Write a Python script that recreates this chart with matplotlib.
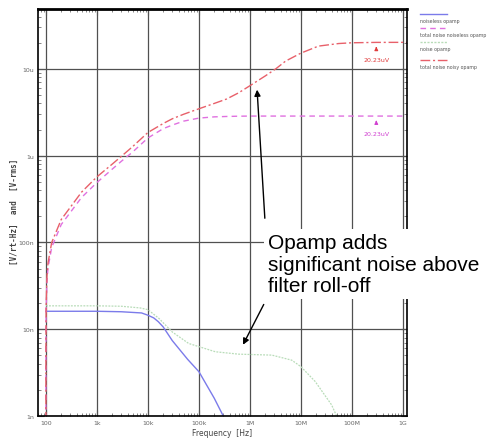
import numpy as np
import matplotlib
matplotlib.use('Agg')
import matplotlib.pyplot as plt
from matplotlib.lines import Line2D
from matplotlib.ticker import LogLocator, NullFormatter, FixedLocator

# noise densities [V/rt-Hz]
f_density_blue = [100, 1e3, 3e3, 7.5e3, 1e4, 1.3e4, 1.6e4, 2e4, 3e4, 6e4, 1e5, 2e5, 3e5]
v_noiseless = [16.1e-9, 16.1e-9, 15.9e-9, 15.4e-9, 14.5e-9, 13.5e-9, 12.2e-9, 10.6e-9,
               7.4e-9, 4.5e-9, 3.24e-9, 1.6e-9, 1.0e-9]

f_density_green = [100, 1e3, 3e3, 7e3, 1e4, 1.65e4, 3e4, 6.3e4, 1e5, 2.1e5, 6e5, 2.7e6,
                   6.6e6, 1e7, 1.9e7, 4e7, 5e7]
v_noise_opamp = [18.6e-9, 18.6e-9, 18.4e-9, 17.6e-9, 16.8e-9, 13.3e-9, 9.3e-9, 6.85e-9,
                 6.3e-9, 5.5e-9, 5.16e-9, 5.03e-9, 4.4e-9, 3.7e-9, 2.5e-9, 1.34e-9, 1.0e-9]

# integrated noise [V-rms]
f_total = [100.0, 100.003, 100.1, 101, 105, 110, 130, 200, 500, 1e3, 2e3, 3e3, 5e3, 1e4,
           2e4, 3e4, 5e4, 1e5, 2e5, 3.5e5, 6e5, 1e6, 2e6, 3.2e6, 5e6, 1e7, 2.2e7, 5.5e7,
           1e8, 3e8, 1.2e9]
v_total_noisy = [1e-12, 1.0e-9, 5.8e-9, 18.4e-9, 41e-9, 58e-9, 100e-9, 184e-9, 380e-9,
                 570e-9, 0.8e-6, 0.98e-6, 1.27e-6, 1.85e-6, 2.35e-6, 2.66e-6, 3.0e-6,
                 3.47e-6, 4.0e-6, 4.5e-6, 5.3e-6, 6.4e-6, 8.3e-6, 10e-6, 12.3e-6, 15.2e-6,
                 18.3e-6, 19.6e-6, 20.0e-6, 20.2e-6, 20.23e-6]
v_total_noiseless = [1e-12, 0.9e-9, 5.1e-9, 16e-9, 36e-9, 51e-9, 88e-9, 161e-9, 330e-9,
                     490e-9, 0.7e-6, 0.86e-6, 1.1e-6, 1.6e-6, 2.05e-6, 2.25e-6, 2.5e-6,
                     2.71e-6, 2.8e-6, 2.83e-6, 2.85e-6, 2.86e-6, 2.86e-6, 2.86e-6, 2.86e-6,
                     2.86e-6, 2.86e-6, 2.86e-6, 2.86e-6, 2.86e-6, 2.86e-6]

x_ticks = [1e2, 1e3, 1e4, 1e5, 1e6, 1e7, 1e8, 1e9]
x_labels = ['100', '1k', '10k', '100k', '1M', '10M', '100M', '1G']
y_ticks = [1e-9, 1e-8, 1e-7, 1e-6, 1e-5]
y_labels = ['1n', '10n', '100n', '1u', '10u']

legend_labels = ['noiseless opamp', 'total noise noiseless opamp', 'noise opamp', 'total noise noisy opamp']
cursor_f = 3.0e8
cursor_labels = ['20.23uV', '20.23uV']

c_blue = '#7b7bea'
c_pink = '#e070e0'
c_green = '#b8dcb8'
c_red = '#e8606a'
ls_pink = (0, (4, 3))
ls_green = (0, (1.5, 1))
ls_red = (0, (7, 2, 1.5, 2))

fig = plt.figure(figsize=(4.89, 4.39), dpi=100)
ax = fig.add_axes([38 / 489, 22 / 439, 369 / 489, 407 / 439])

ax.plot(f_density_blue, v_noiseless, color=c_blue, lw=1.0)
ax.plot(f_total, v_total_noiseless, color=c_pink, lw=1.0, ls=ls_pink)
ax.plot(f_density_green, v_noise_opamp, color=c_green, lw=0.9, ls=ls_green)
ax.plot(f_total, v_total_noisy, color=c_red, lw=1.0, ls=ls_red)

ax.set_xscale('log')
ax.set_yscale('log')
ax.set_xlim(70, 1.2e9)
ax.set_ylim(1e-9, 4.9e-5)

ax.xaxis.set_major_locator(FixedLocator(x_ticks))
ax.set_xticklabels(x_labels)
ax.yaxis.set_major_locator(FixedLocator(y_ticks))
ax.set_yticklabels(y_labels)
ax.xaxis.set_minor_locator(LogLocator(base=10, subs=np.arange(2, 10), numticks=20))
ax.yaxis.set_minor_locator(LogLocator(base=10, subs=np.arange(2, 10), numticks=20))
ax.xaxis.set_minor_formatter(NullFormatter())
ax.yaxis.set_minor_formatter(NullFormatter())
ax.tick_params(which='both', direction='in', top=True, right=True, labelsize=4.5,
               labelcolor='#666666', color='#555555', pad=3)
ax.tick_params(which='major', length=4, width=0.8)
ax.tick_params(which='minor', length=2.5, width=0.5)
ax.grid(True, which='major', color='#505050', lw=0.9)
for s in ax.spines.values():
    s.set_linewidth(1.2)
ax.spines['top'].set_linewidth(2.0)

ax.set_xlabel('Frequency  [Hz]', fontsize=5.5, color='#444444', labelpad=2)
fig.text(14 / 489, 1 - 212 / 439, '[V/rt-Hz]  and  [V-rms]', rotation=90, fontsize=5.5,
         fontweight='bold', color='#444444', ha='center', va='center', family='DejaVu Sans Mono')

# cursors
for val, col, lab in [(v_total_noisy[-1], '#e03a3a', cursor_labels[0]),
                      (v_total_noiseless[-1], '#d040d0', cursor_labels[1])]:
    ax.annotate('', xy=(cursor_f, val * 0.96), xytext=(cursor_f, val * 0.8),
                arrowprops=dict(arrowstyle='-|>', color=col, lw=0.8, mutation_scale=5))
    ax.text(cursor_f, val * 0.63, lab, color=col, fontsize=4.5, ha='center', va='center')

# legend (sample line above text)
legend_colors = [c_blue, c_pink, c_green, c_red]
legend_styles = ['-', ls_pink, ls_green, ls_red]
legend_y = [15, 29, 43, 61]
for lab, col, ls, yy in zip(legend_labels, legend_colors, legend_styles, legend_y):
    fig.add_artist(Line2D([420 / 489, 447 / 489], [1 - yy / 439, 1 - yy / 439],
                          color=col, ls=ls, lw=1.0))
    fig.text(420 / 489, 1 - (yy + 6) / 439, lab, fontsize=3.4, color='#555555',
             ha='left', va='center')

# annotation
fig.text(268 / 489, 1 - 234 / 439, 'Opamp adds\nsignificant noise above\nfilter roll-off',
         fontsize=15, family='Liberation Sans', color='black', ha='left', va='top',
         linespacing=1.17, zorder=10,
         bbox=dict(facecolor='white', edgecolor='none', pad=3))
ax.annotate('', xy=(1.37e6, 6.2e-6), xycoords='data',
            xytext=(265 / 489, 1 - 222 / 439), textcoords='figure fraction',
            arrowprops=dict(arrowstyle='-|>', color='black', lw=1.0, mutation_scale=9))
ax.annotate('', xy=(6.9e5, 6.2e-9), xycoords='data',
            xytext=(265 / 489, 1 - 303 / 439), textcoords='figure fraction',
            arrowprops=dict(arrowstyle='-|>', color='black', lw=1.0, mutation_scale=9))

fig.savefig('out.png', dpi=100)
